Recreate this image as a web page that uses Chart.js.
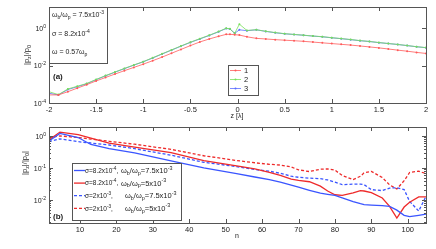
<!DOCTYPE html>
<html>
<head>
<meta charset="utf-8">
<script src="https://cdn.jsdelivr.net/npm/chart.js@4"></script>
<style>
  body { margin: 0; background: #fff; }
  canvas { position: absolute; left: 0; }
  #topChart { top: 0; }
  #botChart { top: 120px; }
</style>
</head>
<body>
<canvas id="topChart" width="436" height="120"></canvas>
<canvas id="botChart" width="436" height="129"></canvas>
<script>
// panel (a): |p_z|/p_0 along z [lambda]
const zPos = [-2, -1.9, -1.8, -1.7, -1.6, -1.5, -1.4, -1.3, -1.2, -1.1, -1, -0.9, -0.8, -0.7, -0.6, -0.5, -0.4, -0.3, -0.2,
  -0.12, -0.08, -0.03, 0.02, 0.1, 0.2, 0.3, 0.4, 0.5, 0.6, 0.7, 0.8, 0.9, 1, 1.1, 1.2, 1.3, 1.4, 1.5, 1.6, 1.7, 1.8, 1.9, 2];
const run1 = [2.7e-4, 2.7e-4, 4.0e-4, 6.2e-4, 9.5e-4, 1.5e-3, 2.3e-3, 3.5e-3, 5.3e-3, 7.9e-3, 0.0118, 0.018, 0.028, 0.045, 0.072, 0.115, 0.18, 0.26, 0.36,
  0.46, 0.46, 0.44, 0.42, 0.34, 0.28, 0.26, 0.24, 0.224, 0.21, 0.195, 0.178, 0.162, 0.148, 0.135, 0.123, 0.11, 0.098, 0.087, 0.076, 0.066, 0.058, 0.05, 0.044];
const run2 = [4.0e-4, 2.8e-4, 5.6e-4, 7.8e-4, 1.1e-3, 1.8e-3, 2.9e-3, 4.5e-3, 7.0e-3, 0.0107, 0.016, 0.026, 0.042, 0.068, 0.11, 0.175, 0.27, 0.41, 0.65,
  0.97, 0.9, 0.52, 1.6, 0.74, 0.81, 0.67, 0.57, 0.5, 0.455, 0.415, 0.375, 0.345, 0.305, 0.272, 0.243, 0.213, 0.192, 0.168, 0.149, 0.133, 0.116, 0.101, 0.09];
const run3 = [3.3e-4, 2.7e-4, 5.2e-4, 7.4e-4, 1.05e-3, 1.75e-3, 2.8e-3, 4.4e-3, 6.8e-3, 0.0104, 0.0158, 0.025, 0.041, 0.066, 0.107, 0.17, 0.26, 0.4, 0.63,
  0.95, 0.89, 0.52, 0.8, 0.72, 0.8, 0.66, 0.56, 0.49, 0.45, 0.41, 0.37, 0.34, 0.3, 0.27, 0.24, 0.21, 0.19, 0.166, 0.148, 0.132, 0.115, 0.1, 0.089];
const zTicks = [-2, -1.5, -1, -0.5, 0, 0.5, 1, 1.5, 2];
const topDecades = [-4, -2, 0];

// panel (b): |p_z|/|p_0| against n
const nPos = [1.5, 4.5, 9.5, 13, 18, 25, 35, 44, 53, 58, 62, 65, 68, 70, 73, 76, 78, 80, 82, 85, 87, 88, 90, 93, 95, 97, 99, 100.5, 103, 105];
const solidBlue = [0.69, 1.2, 0.89, 0.54, 0.4, 0.295, 0.166, 0.1, 0.066, 0.052, 0.043, 0.036, 0.029, 0.025, 0.02, 0.0162, 0.015, 0.0138, 0.0115,
  0.0089, 0.0076, 0.0071, 0.0069, 0.0066, 0.0063, 0.0048, 0.0033, 0.003, 0.0033, 0.0036];
const solidRed = [0.75, 1.32, 1.1, 0.85, 0.6, 0.45, 0.3, 0.17, 0.115, 0.093, 0.072, 0.058, 0.045, 0.041, 0.037, 0.027, 0.019, 0.0145, 0.0138,
  0.0166, 0.0195, 0.019, 0.017, 0.0115, 0.0063, 0.0027, 0.006, 0.0085, 0.0125, 0.0125];
const dashBlue = [0.66, 0.81, 0.66, 0.6, 0.52, 0.4, 0.25, 0.15, 0.11, 0.089, 0.079, 0.068, 0.055, 0.051, 0.048, 0.046, 0.042, 0.036, 0.03,
  0.031, 0.031, 0.03, 0.021, 0.0195, 0.0234, 0.024, 0.021, 0.009, 0.0045, 0.013];
const dashRed = [0.89, 1.0, 0.89, 0.8, 0.68, 0.55, 0.38, 0.24, 0.17, 0.145, 0.13, 0.123, 0.107, 0.087, 0.077, 0.091, 0.093, 0.085, 0.058,
  0.043, 0.055, 0.07, 0.078, 0.05, 0.0295, 0.022, 0.04, 0.072, 0.079, 0.066];
const nTicks = [10, 20, 30, 40, 50, 60, 70, 80, 90, 100];
const botDecades = [-2, -1, 0];

const FONT = "Liberation Sans, Arial, sans-serif";
const INK = "#222";

function pts(xs, ys) {
  return xs.map((x, i) => ({ x, y: ys[i] }));
}

// text with sub/superscripts: parts = [[text, 0 normal | 1 sub | 2 sup], ...]
function rich(ctx, x, y, parts, size, align) {
  const widths = parts.map(p => {
    ctx.font = (p[1] ? size * 0.72 : size) + "px " + FONT;
    return ctx.measureText(p[0]).width;
  });
  const total = widths.reduce((a, b) => a + b, 0);
  let cx = align === "right" ? x - total : align === "center" ? x - total / 2 : x;
  ctx.textAlign = "left";
  ctx.textBaseline = "middle";
  parts.forEach((p, i) => {
    ctx.font = (p[1] ? size * 0.72 : size) + "px " + FONT;
    const dy = p[1] === 1 ? size * 0.32 : p[1] === 2 ? -size * 0.38 : 0;
    ctx.fillText(p[0], cx, y + dy);
    cx += widths[i];
  });
}

function framePlugin(opts) {
  return {
    id: "frame",
    afterDatasetsDraw(chart) {
      const { ctx, chartArea: a, scales } = chart;
      ctx.save();
      ctx.strokeStyle = "#555";
      ctx.lineWidth = 1;
      ctx.beginPath();
      opts.xTicks.forEach(v => {
        const px = Math.round(scales.x.getPixelForValue(v)) + 0.5;
        ctx.moveTo(px, a.bottom); ctx.lineTo(px, a.bottom - 4);
        ctx.moveTo(px, a.top); ctx.lineTo(px, a.top + 4);
      });
      opts.decades.forEach(d => {
        const py = Math.round(scales.y.getPixelForValue(Math.pow(10, d))) + 0.5;
        ctx.moveTo(a.left, py); ctx.lineTo(a.left + 4, py);
        ctx.moveTo(a.right, py); ctx.lineTo(a.right - 4, py);
      });
      if (opts.minor) {
        for (let d = opts.decades[0] - 1; d <= opts.decades[opts.decades.length - 1]; d++) {
          for (let m = 2; m <= 9; m++) {
            const v = m * Math.pow(10, d);
            if (v < scales.y.min || v > scales.y.max) continue;
            const py = Math.round(scales.y.getPixelForValue(v)) + 0.5;
            ctx.moveTo(a.left, py); ctx.lineTo(a.left + 2, py);
            ctx.moveTo(a.right, py); ctx.lineTo(a.right - 2, py);
          }
        }
      }
      ctx.stroke();
      ctx.strokeRect(Math.round(a.left) + 0.5, Math.round(a.top) + 0.5, Math.round(a.right - a.left), Math.round(a.bottom - a.top));

      // y tick labels as 10^k
      ctx.fillStyle = INK;
      opts.decades.forEach(d => {
        const py = scales.y.getPixelForValue(Math.pow(10, d));
        rich(ctx, a.left - 3, py + 1, [["10", 0], [String(d), 2]], 7, "right");
      });
      opts.draw(ctx, a, scales);
      ctx.restore();
    }
  };
}

function baseOptions(xMin, xMax, xTicks, yMin, yMax, canvasH) {
  return {
    responsive: false,
    animation: false,
    devicePixelRatio: 1,
    layout: { padding: { left: 0, right: 10, top: 7, bottom: 0 } },
    plugins: { legend: { display: false }, tooltip: { enabled: false } },
    scales: {
      x: {
        type: "linear", min: xMin, max: xMax,
        grid: { display: false, drawTicks: false }, border: { display: false },
        afterBuildTicks: s => { s.ticks = xTicks.map(v => ({ value: v })); },
        afterFit: s => { s.height = canvasH - 103; },
        ticks: { color: INK, font: { family: FONT, size: 7.5 }, padding: 2, maxRotation: 0, autoSkip: false,
          callback: v => String(v) }
      },
      y: {
        type: "logarithmic", min: yMin, max: yMax,
        grid: { display: false }, border: { display: false },
        ticks: { display: false },
        afterFit: s => { s.width = 49; }
      }
    }
  };
}

function lineDs(xs, ys, color, dashed, dots) {
  return {
    data: pts(xs, ys),
    borderColor: color,
    backgroundColor: color,
    borderWidth: dots ? 0.8 : 1.3,
    borderDash: dashed ? [3, 2] : [],
    pointRadius: dots ? 1 : 0,
    pointBorderWidth: 0,
    tension: 0,
    fill: false
  };
}

const cRed = "#ff5a5a", cGreen = "#77e05a", cBlue = "#5a6cff";

new Chart(document.getElementById("topChart"), {
  type: "line",
  data: {
    datasets: [
      lineDs(zPos, run1, cRed, false, true),
      lineDs(zPos, run2, cGreen, false, true),
      lineDs(zPos, run3, cBlue, false, true)
    ]
  },
  options: baseOptions(-2, 2, zTicks, 1e-4, 13.2, 120),
  plugins: [framePlugin({
    xTicks: zTicks, decades: topDecades, minor: false,
    draw(ctx, a) {
      // parameter box
      ctx.fillStyle = "#fff";
      ctx.fillRect(a.left, a.top, 58, 56);
      ctx.strokeStyle = "#555";
      ctx.strokeRect(a.left + 0.5, a.top + 0.5, 58, 56);
      ctx.fillStyle = INK;
      rich(ctx, a.left + 3, 15, [["\u03c9", 0], ["b", 1], ["/\u03c9", 0], ["p", 1], [" = 7.5x10", 0], ["-3", 2]], 7, "left");
      rich(ctx, a.left + 3, 34, [["\u03c3 = 8.2x10", 0], ["-4", 2]], 7, "left");
      rich(ctx, a.left + 3, 52, [["\u03c9 = 0.57\u03c9", 0], ["p", 1]], 7, "left");
      ctx.font = "bold 8px " + FONT;
      ctx.textAlign = "left";
      ctx.fillText("(a)", a.left + 4, 77);

      // series legend
      ctx.fillStyle = "#fff";
      ctx.fillRect(228, 65, 30, 30);
      ctx.strokeStyle = "#555";
      ctx.strokeRect(228.5, 65.5, 30, 30);
      [[cRed, "1"], [cGreen, "2"], [cBlue, "3"]].forEach((e, i) => {
        const y = 70.5 + i * 9;
        ctx.strokeStyle = e[0];
        ctx.fillStyle = e[0];
        ctx.lineWidth = 0.8;
        ctx.beginPath(); ctx.moveTo(230, y); ctx.lineTo(241, y); ctx.stroke();
        ctx.beginPath(); ctx.arc(235.5, y, 1, 0, Math.PI * 2); ctx.fill();
        ctx.fillStyle = INK;
        ctx.font = "7.5px " + FONT;
        ctx.textBaseline = "middle";
        ctx.fillText(e[1], 244, y + 0.5);
      });

      // axis titles
      ctx.fillStyle = INK;
      rich(ctx, 237, 116.5, [["z [\u03bb]", 0]], 7, "center");
      ctx.translate(27, 55);
      ctx.rotate(-Math.PI / 2);
      rich(ctx, 0, 0, [["|p", 0], ["z", 1], ["|/p", 0], ["0", 1]], 7.5, "center");
    }
  })]
});

new Chart(document.getElementById("botChart"), {
  type: "line",
  data: {
    datasets: [
      lineDs(nPos, solidBlue, "#3a55ff", false, false),
      lineDs(nPos, solidRed, "#ee2a2a", false, false),
      lineDs(nPos, dashBlue, "#3a55ff", true, false),
      lineDs(nPos, dashRed, "#ee2a2a", true, false)
    ]
  },
  options: baseOptions(1.5, 105, nTicks, 1.9e-3, 1.9, 129),
  plugins: [framePlugin({
    xTicks: nTicks, decades: botDecades, minor: true,
    draw(ctx, a) {
      // legend box
      const top = 43, left = 72;
      ctx.fillStyle = "#fff";
      ctx.fillRect(left, top, 109, 57);
      ctx.strokeStyle = "#555";
      ctx.lineWidth = 1;
      ctx.strokeRect(left + 0.5, top + 0.5, 109, 57);
      ctx.save();
      ctx.beginPath();
      ctx.rect(left + 1, top + 1, 108, 56);
      ctx.clip();
      const rows = [
        ["#3a55ff", false, "8.2x10", "-4", "7.5x10", 121],
        ["#ee2a2a", false, "8.2x10", "-4", "5x10", 121],
        ["#3a55ff", true, "2x10", "-3", "7.5x10", 125],
        ["#ee2a2a", true, "2x10", "-3", "5x10", 125]
      ];
      rows.forEach((r, i) => {
        const y = 50.5 + i * 12.6;
        ctx.strokeStyle = r[0];
        ctx.lineWidth = 1.3;
        ctx.setLineDash(r[1] ? [3, 2] : []);
        ctx.beginPath(); ctx.moveTo(74, y); ctx.lineTo(85, y); ctx.stroke();
        ctx.setLineDash([]);
        ctx.fillStyle = INK;
        rich(ctx, 85, y + 0.5, [["\u03c3=" + r[2], 0], [r[3], 2], [",", 0]], 6.5, "left");
        rich(ctx, r[5], y + 0.5, [["\u03c9", 0], ["b", 1], ["/\u03c9", 0], ["p", 1], ["=" + r[4], 0], ["-3", 2]], 7.5, "left");
      });
      ctx.restore();
      ctx.fillStyle = INK;
      ctx.font = "bold 8px " + FONT;
      ctx.textAlign = "left";
      ctx.textBaseline = "middle";
      ctx.fillText("(b)", a.left + 4, 97);

      rich(ctx, 237, 116, [["n", 0]], 7, "center");
      ctx.translate(25, 43);
      ctx.rotate(-Math.PI / 2);
      rich(ctx, 0, 0, [["|p", 0], ["z", 1], ["|/|p", 0], ["0", 1], ["|", 0]], 7.5, "center");
    }
  })]
});
</script>
</body>
</html>
